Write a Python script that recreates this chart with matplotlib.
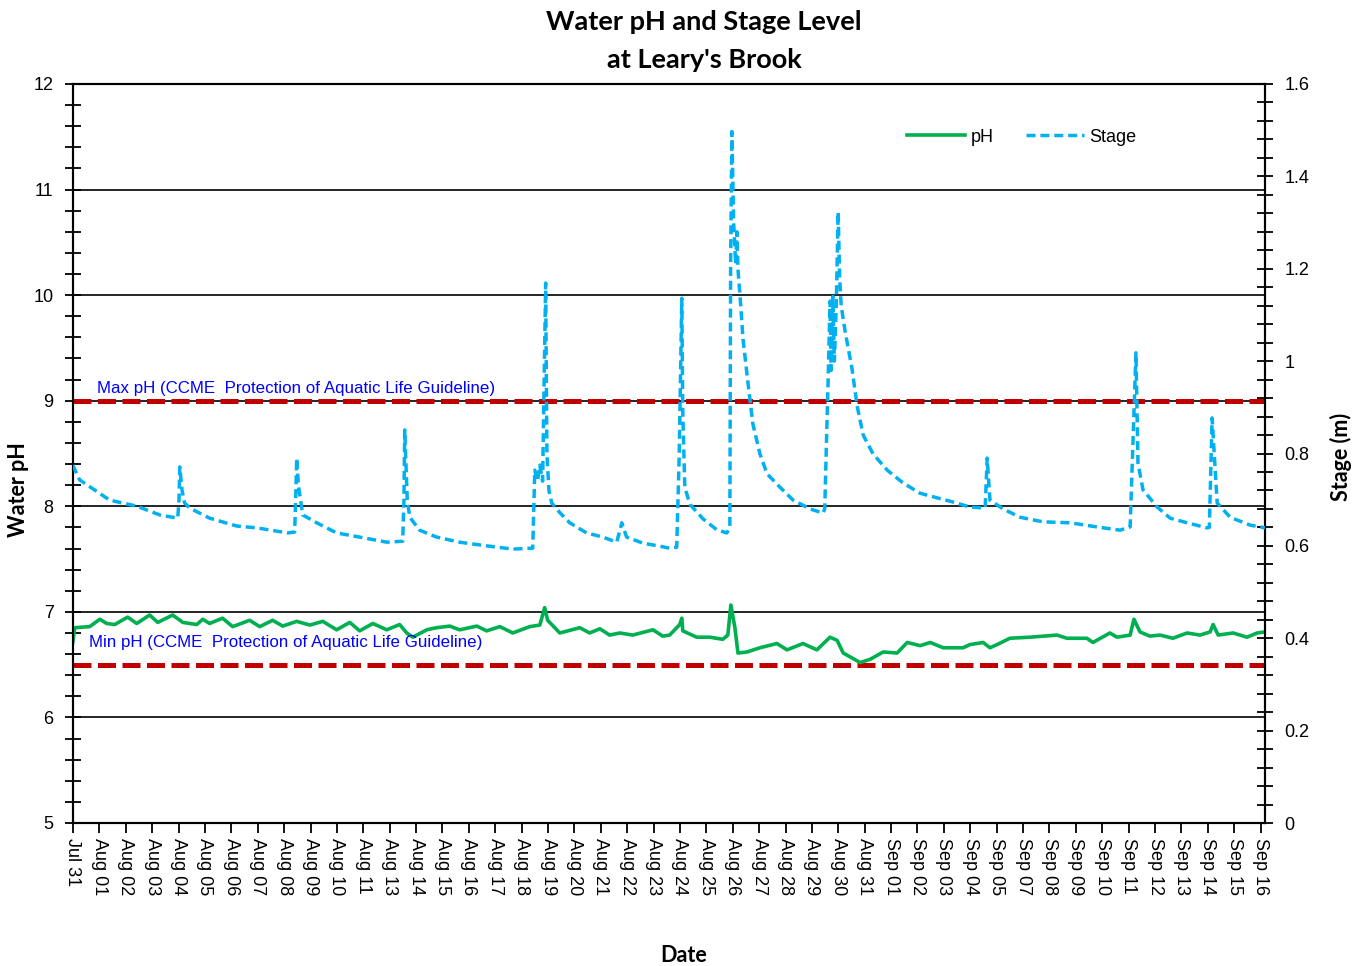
import numpy as np
import matplotlib
matplotlib.use("Agg")
import matplotlib.pyplot as plt
from matplotlib.lines import Line2D
from matplotlib.ticker import FixedLocator, MultipleLocator, FuncFormatter

# ---------------- data (x = days since Jul 31 00:00) ----------------
ph_day = [0.48, 0.56, 1.15, 1.55, 1.82, 2.14, 2.65, 3.01, 3.52, 3.84, 4.43, 4.83, 5.38, 5.62,
          5.89, 6.40, 6.80, 7.47, 7.87, 8.38, 8.78, 9.33, 9.85, 10.36, 10.91, 11.43, 11.82,
          12.34, 12.89, 13.40, 13.68, 13.92, 14.47, 14.86, 15.38, 15.77, 16.45, 16.84, 17.36,
          17.87, 18.54, 18.94, 19.13, 19.25, 19.73, 20.52, 20.91, 21.31, 21.70, 22.10, 22.61,
          23.41, 23.80, 24.07, 24.47, 24.55, 24.59, 25.14, 25.66, 26.17, 26.37, 26.49, 26.65,
          26.77, 27.13, 27.64, 28.31, 28.71, 29.34, 29.89, 30.41, 30.69, 30.93, 31.60, 31.99,
          32.51, 33.06, 33.46, 33.97, 34.37, 34.88, 35.67, 35.94, 36.46, 36.73, 37.01, 37.52,
          38.31, 39.38, 39.77, 40.56, 40.80, 41.47, 41.75, 42.27, 42.42, 42.66, 43.05, 43.45,
          43.96, 44.52, 45.03, 45.43, 45.55, 45.75, 46.34, 46.89, 47.29, 47.60]
ph_val = [6.71, 6.85, 6.86, 6.93, 6.89, 6.88, 6.95, 6.89, 6.97, 6.90, 6.97, 6.90, 6.88, 6.93,
          6.89, 6.94, 6.86, 6.92, 6.86, 6.92, 6.865, 6.91, 6.875, 6.91, 6.83, 6.90, 6.82,
          6.89, 6.83, 6.88, 6.80, 6.76, 6.83, 6.85, 6.865, 6.83, 6.865, 6.82, 6.86,
          6.80, 6.86, 6.875, 7.04, 6.92, 6.80, 6.85, 6.80, 6.84, 6.78, 6.80, 6.78,
          6.83, 6.77, 6.78, 6.88, 6.94, 6.82, 6.76, 6.76, 6.74, 6.78, 7.065, 6.85,
          6.61, 6.62, 6.66, 6.70, 6.64, 6.70, 6.64, 6.76, 6.73, 6.61, 6.52, 6.55,
          6.62, 6.61, 6.71, 6.68, 6.71, 6.66, 6.66, 6.69, 6.71, 6.66, 6.69, 6.75,
          6.76, 6.78, 6.75, 6.75, 6.71, 6.80, 6.76, 6.78, 6.93, 6.81, 6.77, 6.78,
          6.75, 6.80, 6.78, 6.81, 6.88, 6.78, 6.80, 6.76, 6.80, 6.81]

stage_day = [0.48, 0.75, 1.94, 3.01, 3.92, 4.63, 4.68, 4.71, 4.80, 4.90, 5.10, 5.89, 6.96, 7.75,
             8.98, 9.25, 9.30, 9.33, 9.40, 9.57, 10.12, 10.91, 11.82, 12.89, 13.52, 13.57,
             13.60, 13.70, 13.80, 14.19, 14.86, 15.77, 16.84, 17.87, 18.66, 18.74, 18.85,
             18.94, 19.05, 19.17, 19.22, 19.30, 19.41, 19.73, 20.12, 20.79, 21.43, 21.98,
             22.18, 22.37, 23.01, 23.80, 24.07, 24.35, 24.45, 24.55, 24.59, 24.67, 24.87,
             25.38, 25.93, 26.33, 26.45, 26.48, 26.53, 26.60, 26.68, 26.73, 26.77, 26.85,
             26.97, 27.17, 27.36, 27.64, 27.92, 28.43, 28.95, 29.62, 30.13, 30.20, 30.28,
             30.33, 30.41, 30.45, 30.52, 30.58, 30.66, 30.73, 30.79, 30.85, 31.01, 31.28,
             31.48, 31.72, 32.11, 32.67, 33.30, 33.97, 34.64, 35.27, 35.94, 36.54, 36.62,
             36.73, 37.25, 37.92, 38.83, 39.90, 40.96, 41.87, 42.27, 42.50, 42.58, 42.78,
             43.34, 43.85, 44.52, 45.31, 45.40, 45.51, 45.71, 46.22, 47.01, 47.60]
stage_val = [0.775, 0.743, 0.699, 0.686, 0.667, 0.660, 0.700, 0.771, 0.720, 0.693, 0.682, 0.660,
             0.643, 0.639, 0.628, 0.630, 0.720, 0.790, 0.730, 0.667, 0.650, 0.628, 0.619, 0.608,
             0.610, 0.700, 0.851, 0.700, 0.662, 0.634, 0.619, 0.608, 0.600, 0.593, 0.595,
             0.764, 0.740, 0.775, 0.740, 1.169, 0.800, 0.720, 0.693, 0.672, 0.650, 0.628,
             0.619, 0.608, 0.650, 0.619, 0.606, 0.598, 0.595, 0.597, 0.800, 1.136, 0.888,
             0.727, 0.690, 0.659, 0.635, 0.628, 0.640, 1.200, 1.497, 1.300, 1.210, 1.280,
             1.199, 1.143, 1.048, 0.951, 0.864, 0.799, 0.756, 0.727, 0.699, 0.680, 0.671,
             0.680, 0.850, 0.950, 1.130, 0.980, 1.140, 1.000, 1.130, 1.323, 1.180, 1.120,
             1.063, 0.983, 0.903, 0.840, 0.799, 0.764, 0.736, 0.714, 0.704, 0.695, 0.684,
             0.682, 0.790, 0.699, 0.680, 0.662, 0.652, 0.650, 0.641, 0.634, 0.641, 1.018,
             0.779, 0.721, 0.684, 0.660, 0.650, 0.639, 0.640, 0.877, 0.693, 0.662, 0.645,
             0.639]

ph_max_guideline = 9.0
ph_min_guideline = 6.5

date_labels = ["Jul 31"] + ["Aug %02d" % d for d in range(1, 12)] + \
              ["Aug %02d" % d for d in range(13, 32)] + \
              ["Sep %02d" % d for d in range(1, 6)] + ["Sep %02d" % d for d in range(7, 17)]

# ---------------- figure ----------------
W, H = 1361, 966
fig = plt.figure(figsize=(W / 100, H / 100), dpi=100)
left, right, top, bottom = 73, 1265, 84, 823
ax = fig.add_axes([left / W, 1 - bottom / H, (right - left) / W, (bottom - top) / H])
ax2 = ax.twinx()

tick_font = dict(family="Liberation Sans", size=13)
x_start, x_step = 0.49, 1.043
x_end = 47.6
ax.set_xlim(x_start, x_end)
ax.set_ylim(5, 12)
ax2.set_ylim(0, 1.6)

# grid lines
for g in [6, 7, 8, 9, 10, 11]:
    ax.axhline(g, color="black", lw=1.2, zorder=1)

# guideline lines
ax.axhline(ph_max_guideline, color="#C00000", lw=3.6, dashes=(3.6, 1.3), zorder=2)
ax.axhline(ph_min_guideline, color="#C00000", lw=3.6, dashes=(3.6, 1.3), zorder=2)

ax.plot(ph_day, ph_val, color="#00B050", lw=2.6, zorder=3, solid_joinstyle="round")
ax2.plot(stage_day, stage_val, color="#00B0F0", lw=2.5, dashes=(2.6, 1.4), zorder=3)

ax.text(1.44, 9.04, "Max pH (CCME  Protection of Aquatic Life Guideline)", color="#0000FF",
        fontsize=12.2, family="Liberation Sans", va="bottom", ha="left", zorder=4)
ax.text(1.12, 6.71, "Min pH (CCME  Protection of Aquatic Life Guideline)", color="#0000FF",
        fontsize=12.2, family="Liberation Sans", va="center", ha="left", zorder=4)

# ticks
xt = x_start + x_step * np.arange(len(date_labels))
ax.xaxis.set_major_locator(FixedLocator(xt))
ax.set_xticklabels(date_labels, rotation=-90, fontdict=tick_font)
ax.tick_params(axis="x", direction="out", length=7, width=1.3, pad=4)

ax.yaxis.set_major_locator(MultipleLocator(1))
ax.yaxis.set_minor_locator(MultipleLocator(0.2))
ax.tick_params(axis="y", which="major", direction="inout", length=12, width=1.3, labelsize=13, pad=8)
ax.tick_params(axis="y", which="minor", direction="inout", length=12, width=1.3)
for lb in ax.get_yticklabels():
    lb.set_family("Liberation Sans")

ax2.yaxis.set_major_locator(MultipleLocator(0.2))
ax2.yaxis.set_minor_locator(MultipleLocator(0.04))
ax2.yaxis.set_major_formatter(FuncFormatter(lambda v, p: f"{v:g}"))
ax2.tick_params(axis="y", which="major", direction="inout", length=12, width=1.3, labelsize=13, pad=8)
ax2.tick_params(axis="y", which="minor", direction="inout", length=12, width=1.3)
for lb in ax2.get_yticklabels():
    lb.set_family("Liberation Sans")

for a in (ax, ax2):
    for s in a.spines.values():
        s.set_linewidth(1.5)
        s.set_color("black")

# labels
fig.text(704 / W, 1 - 22 / H, "Water pH and Stage Level", ha="center", va="center",
         fontsize=19.5, fontweight="bold", family="Lato")
fig.text(704 / W, 1 - 60 / H, "at Leary's Brook", ha="center", va="center",
         fontsize=19.5, fontweight="bold", family="Lato")
fig.text(19 / W, 1 - 490 / H, "Water pH", rotation=90, ha="center", va="center",
         fontsize=15.5, fontweight="bold", family="Lato")
fig.text(1341 / W, 1 - 457 / H, "Stage (m)", rotation=90, ha="center", va="center",
         fontsize=15.5, fontweight="bold", family="Lato")
fig.text(684 / W, 1 - 955 / H, "Date", ha="center", va="center",
         fontsize=15.5, fontweight="bold", family="Lato")

handles = [Line2D([], [], color="#00B050", lw=2.6),
           Line2D([], [], color="#00B0F0", lw=2.5, dashes=(2.6, 1.4))]
leg = ax2.legend(handles, ["pH", "Stage"], loc="center", bbox_to_anchor=(1022 / W, 1 - 137 / H),
                 bbox_transform=fig.transFigure, ncol=2, frameon=False, handlelength=3.2,
                 handletextpad=0.3, columnspacing=1.8, prop={"family": "Liberation Sans", "size": 13})

fig.savefig("out.png", dpi=100)
